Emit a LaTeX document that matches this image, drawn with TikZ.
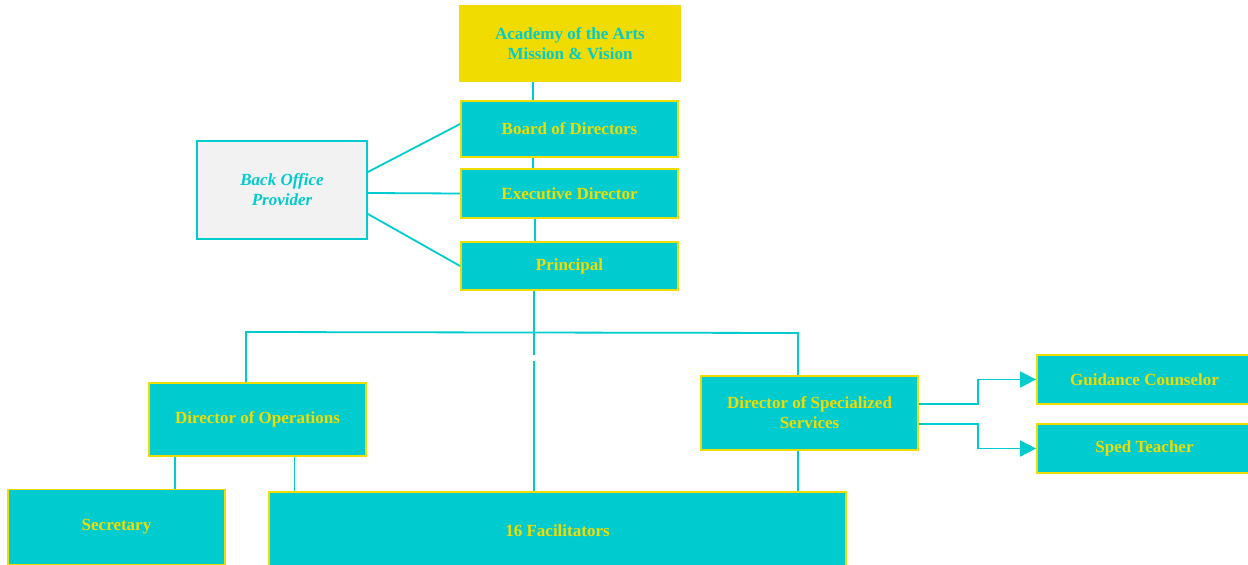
\documentclass[tikz,border=0pt]{standalone}
\usepackage{fontspec}
\setmainfont{Liberation Serif}
\usetikzlibrary{arrows.meta}
\definecolor{tealc}{HTML}{00CCD0}
\definecolor{yelc}{HTML}{F0DC00}
\definecolor{greyc}{HTML}{F2F2F2}
\tikzset{
  box/.style={draw=yelc, fill=tealc, line width=1.8pt, text=yelc,
    font=\bfseries\fontsize{17}{20}\selectfont, align=center, inner sep=0pt},
  topbox/.style={box, fill=yelc, text=tealc},
  sidebox/.style={box, fill=greyc, draw=tealc, text=tealc,
    font=\bfseries\itshape\fontsize{17}{20}\selectfont},
  conn/.style={draw=tealc, line width=1.8pt},
  arr/.style={conn, -{Triangle[length=16pt,width=16pt]}},
}
\begin{document}
\begin{tikzpicture}[x=1pt,y=-1pt]
\useasboundingbox (0,0) rectangle (1248,565);
\node[topbox, minimum width=220pt, minimum height=75pt] (acad) at (570,43.5) {Academy of the Arts\\Mission \& Vision};
\node[box, minimum width=217pt, minimum height=56pt] (board) at (569.5,129) {Board of Directors};
\node[box, minimum width=217pt, minimum height=49pt] (exec) at (569.5,193.5) {Executive Director};
\node[box, minimum width=217pt, minimum height=48pt] (princ) at (569.5,266) {Principal};
\node[sidebox, minimum width=170pt, minimum height=98pt] (bo) at (282,190) {Back Office\\Provider};
\node[box, minimum width=217pt, minimum height=73pt] (ops) at (257.5,419.5) {Director of Operations};
\node[box, minimum width=217pt, minimum height=74pt] (spec) at (809.5,413) {Director of Specialized\\Services};
\node[box, minimum width=215pt, minimum height=49pt] (guid) at (1144.5,379.5) {Guidance Counselor};
\node[box, minimum width=215pt, minimum height=49pt] (sped) at (1144.5,448.5) {Sped Teacher};
\node[box, minimum width=217pt, minimum height=75pt] (sec) at (116.5,527) {Secretary};
\node[box, minimum width=577pt, minimum height=78pt] (fac) at (557.5,531) {16 Facilitators};

\coordinate (cx) at (533,0);
\coordinate (cx2) at (535,0);
\coordinate (busL) at (246,332);
\coordinate (busR) at (798,333);
\coordinate (gapT) at (534,355);
\coordinate (gapB) at (534,361);
\coordinate (sx) at (175,0);
\coordinate (fx) at (294.5,0);

\draw[conn] (acad.south -| cx) -- (board.north -| cx);
\draw[conn] (board.south -| cx) -- (exec.north -| cx);
\draw[conn] (exec.south -| cx2) -- (princ.north -| cx2);
\draw[conn] ([yshift=18pt]bo.east) -- ([yshift=5pt]board.west);
\draw[conn] ([yshift=-3pt]bo.east) -- (exec.west);
\draw[conn] ([yshift=-24pt]bo.east) -- (princ.west);
\draw[conn] (princ.south -| gapT) -- (gapT);
\draw[conn] (gapB) -- (fac.north -| gapB);
\draw[conn] (ops.north -| busL) -- (busL) -- (busR) -- (spec.north -| busR);
\draw[conn] (ops.south -| sx) -- (sec.north -| sx);
\draw[conn] (ops.south -| fx) -- (fac.north -| fx);
\draw[conn] (spec.south -| busR) -- (fac.north -| busR);
\draw[arr] ([yshift=9pt]spec.east) -- ++(59,0) |- (guid.west);
\draw[arr] ([yshift=-11pt]spec.east) -- ++(59,0) |- (sped.west);
\end{tikzpicture}
\end{document}
